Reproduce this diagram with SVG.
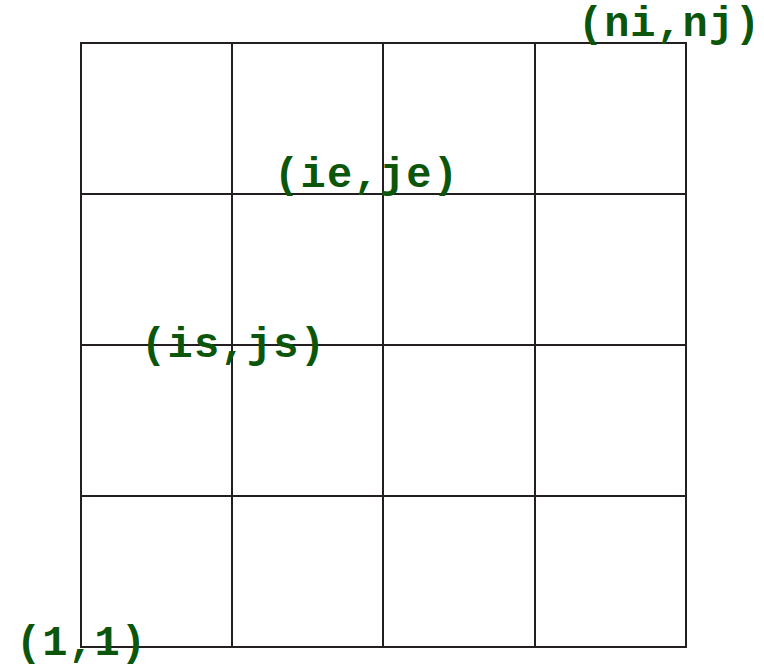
<svg xmlns="http://www.w3.org/2000/svg" width="764" height="665" viewBox="0 0 764 665">
<style>
.g{stroke:#231f20;stroke-width:2;fill:none}
.t{font-family:"Liberation Mono","Courier New",monospace;font-weight:bold;font-size:42px;fill:#0b560b}
</style>
<rect width="764" height="665" fill="#fff"/>
<g id="grid" class="g">
<rect x="81" y="43" width="605" height="604"/>
<line x1="232" y1="43" x2="232" y2="647"/>
<line x1="383" y1="43" x2="383" y2="647"/>
<line x1="535" y1="43" x2="535" y2="647"/>
<line x1="81" y1="194" x2="686" y2="194"/>
<line x1="81" y1="345" x2="686" y2="345"/>
<line x1="81" y1="496" x2="686" y2="496"/>
</g>
<g id="labels">
<text class="t" x="578" y="36" textLength="182">(ni,nj)</text>
<text class="t" x="274" y="187" textLength="184">(ie,je)</text>
<text class="t" x="141" y="357" textLength="184">(is,js)</text>
<text class="t" x="16" y="655" textLength="130">(1,1)</text>
</g>
</svg>
